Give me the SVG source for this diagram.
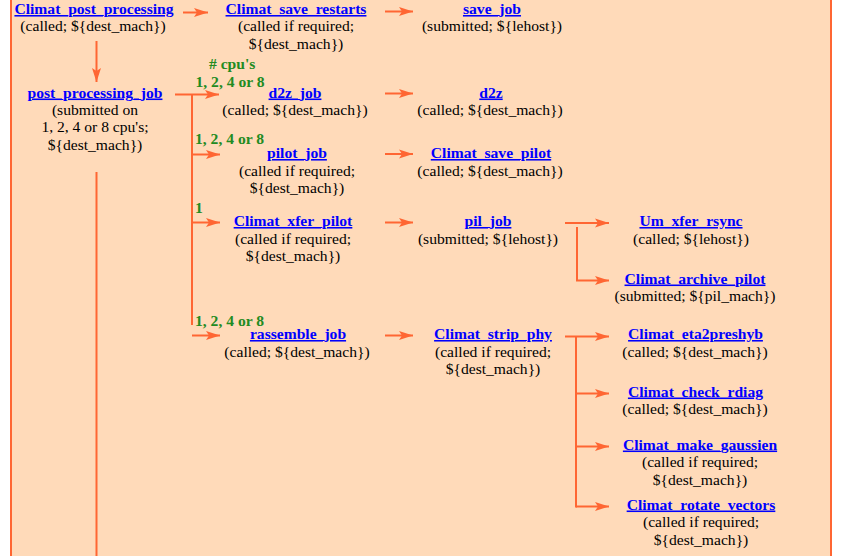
<svg xmlns="http://www.w3.org/2000/svg" width="844" height="556" viewBox="0 0 844 556">
<style>
.t{font-family:"Liberation Serif","Times New Roman",serif;font-weight:bold;font-size:15.6px;fill:#0000FF;text-anchor:middle;text-decoration:underline;text-decoration-thickness:1.6px;text-underline-offset:1.5px}
.s{font-family:"Liberation Serif","Times New Roman",serif;font-size:15.6px;fill:#000000;text-anchor:middle}
.g{font-family:"Liberation Serif","Times New Roman",serif;font-weight:bold;font-size:15.6px;fill:#228B22}
.c{stroke:#FF6633;stroke-width:2;fill:none}
</style>
<defs>
<marker id="ah" markerUnits="userSpaceOnUse" markerWidth="16" markerHeight="12" viewBox="-15 -6 16 12" refX="0" refY="0" orient="auto">
<path d="M0,0 L-14,-4.5 L-11,0 L-14,4.5 Z" fill="#FF6633"/>
</marker>
</defs>
<rect x="0" y="0" width="844" height="556" fill="#FFFFFF"/>
<rect x="11" y="0" width="820" height="556" fill="#FFDAB9"/>
<g id="frame" class="c">
<line x1="11" y1="0" x2="11" y2="556"/>
<line x1="831" y1="0" x2="831" y2="556"/>
</g>
<g id="connectors" class="c">
<line x1="183" y1="12.5" x2="208" y2="12.5" marker-end="url(#ah)"/>
<line x1="385" y1="11.5" x2="413" y2="11.5" marker-end="url(#ah)"/>
<line x1="96.5" y1="41" x2="96.5" y2="82" marker-end="url(#ah)"/>
<line x1="96.5" y1="172" x2="96.5" y2="556"/>
<line x1="175" y1="94.5" x2="219" y2="94.5" marker-end="url(#ah)"/>
<line x1="192" y1="94.5" x2="192" y2="325"/>
<line x1="192" y1="154.5" x2="220" y2="154.5" marker-end="url(#ah)"/>
<line x1="192" y1="222.5" x2="220" y2="222.5" marker-end="url(#ah)"/>
<line x1="192" y1="335.5" x2="220" y2="335.5" marker-end="url(#ah)"/>
<line x1="385" y1="93.5" x2="413" y2="93.5" marker-end="url(#ah)"/>
<line x1="385" y1="154" x2="413" y2="154" marker-end="url(#ah)"/>
<line x1="385" y1="222.5" x2="413" y2="222.5" marker-end="url(#ah)"/>
<line x1="385" y1="335.5" x2="413" y2="335.5" marker-end="url(#ah)"/>
<line x1="565" y1="223" x2="609" y2="223" marker-end="url(#ah)"/>
<polyline points="577,227 577,280.5 609,280.5" marker-end="url(#ah)"/>
<line x1="565" y1="336.5" x2="609" y2="336.5" marker-end="url(#ah)"/>
<line x1="576" y1="337" x2="576" y2="507.5"/>
<line x1="576" y1="393.5" x2="609" y2="393.5" marker-end="url(#ah)"/>
<line x1="576" y1="446.5" x2="609" y2="446.5" marker-end="url(#ah)"/>
<line x1="576" y1="506.5" x2="609" y2="506.5" marker-end="url(#ah)"/>
</g>
<g id="labels">
<text class="g" x="209" y="68.5">#  cpu's</text>
<text class="g" x="195.5" y="86.5">1, 2, 4 or 8</text>
<text class="g" x="195" y="143.5">1, 2, 4 or 8</text>
<text class="g" x="195" y="212.5">1</text>
<text class="g" x="195" y="325.5">1, 2, 4 or 8</text>
</g>
<g id="n_climat_post_processing">
<text class="t" x="94" y="14">Climat_post_processing</text>
<text class="s" x="93" y="31">(called; ${dest_mach})</text>
</g>
<g id="n_climat_save_restarts">
<text class="t" x="296" y="14">Climat_save_restarts</text>
<text class="s" x="296" y="31">(called if required;</text>
<text class="s" x="296" y="48.5">${dest_mach})</text>
</g>
<g id="n_save_job">
<text class="t" x="492" y="14">save_job</text>
<text class="s" x="492" y="31">(submitted; ${lehost})</text>
</g>
<g id="n_post_processing_job">
<text class="t" x="95" y="97.5">post_processing_job</text>
<text class="s" x="95" y="114.5">(submitted on</text>
<text class="s" x="95" y="132">1, 2, 4 or 8 cpu's;</text>
<text class="s" x="95" y="149.5">${dest_mach})</text>
</g>
<g id="n_d2z_job">
<text class="t" x="295" y="97.5">d2z_job</text>
<text class="s" x="295" y="114.5">(called; ${dest_mach})</text>
</g>
<g id="n_d2z">
<text class="t" x="491" y="97.5">d2z</text>
<text class="s" x="490" y="114.5">(called; ${dest_mach})</text>
</g>
<g id="n_pilot_job">
<text class="t" x="297" y="158">pilot_job</text>
<text class="s" x="297" y="175.5">(called if required;</text>
<text class="s" x="297" y="193">${dest_mach})</text>
</g>
<g id="n_climat_save_pilot">
<text class="t" x="491" y="158">Climat_save_pilot</text>
<text class="s" x="490" y="175.5">(called; ${dest_mach})</text>
</g>
<g id="n_climat_xfer_pilot">
<text class="t" x="293" y="226">Climat_xfer_pilot</text>
<text class="s" x="293" y="243.5">(called if required;</text>
<text class="s" x="293" y="261">${dest_mach})</text>
</g>
<g id="n_pil_job">
<text class="t" x="488" y="226">pil_job</text>
<text class="s" x="488" y="243.5">(submitted; ${lehost})</text>
</g>
<g id="n_um_xfer_rsync">
<text class="t" x="691" y="226">Um_xfer_rsync</text>
<text class="s" x="691" y="243.5">(called; ${lehost})</text>
</g>
<g id="n_climat_archive_pilot">
<text class="t" x="695" y="283.5">Climat_archive_pilot</text>
<text class="s" x="695" y="300.5">(submitted; ${pil_mach})</text>
</g>
<g id="n_rassemble_job">
<text class="t" x="298" y="339">rassemble_job</text>
<text class="s" x="297" y="356.5">(called; ${dest_mach})</text>
</g>
<g id="n_climat_strip_phy">
<text class="t" x="493" y="339">Climat_strip_phy</text>
<text class="s" x="493" y="356.5">(called if required;</text>
<text class="s" x="493" y="374">${dest_mach})</text>
</g>
<g id="n_climat_eta2preshyb">
<text class="t" x="695.5" y="339">Climat_eta2preshyb</text>
<text class="s" x="695" y="356.5">(called; ${dest_mach})</text>
</g>
<g id="n_climat_check_rdiag">
<text class="t" x="695.5" y="396.5">Climat_check_rdiag</text>
<text class="s" x="695" y="413.5">(called; ${dest_mach})</text>
</g>
<g id="n_climat_make_gaussien">
<text class="t" x="700" y="449.5">Climat_make_gaussien</text>
<text class="s" x="700" y="467">(called if required;</text>
<text class="s" x="700" y="484.5">${dest_mach})</text>
</g>
<g id="n_climat_rotate_vectors">
<text class="t" x="701" y="509.5">Climat_rotate_vectors</text>
<text class="s" x="701" y="527">(called if required;</text>
<text class="s" x="701" y="544.5">${dest_mach})</text>
</g>
</svg>
